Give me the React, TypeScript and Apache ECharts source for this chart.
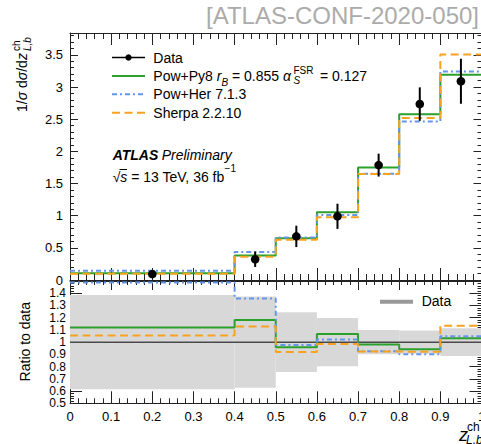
import React, { useEffect, useRef } from "react";
import * as echarts from "echarts";

// Bin edges of the z_{L,b}^{ch} distribution
const binEdges = [0, 0.4, 0.5, 0.6, 0.7, 0.8, 0.9, 1.0];

// Unfolded data and its total uncertainty
const dataValues = [0.092, 0.322, 0.678, 0.99, 1.786, 2.735, 3.09];
const dataErrors = [0.0355, 0.12, 0.166, 0.196, 0.178, 0.26, 0.35];

// MC predictions
const powPy8Values = [0.103, 0.38, 0.65, 1.055, 1.75, 2.575, 3.19];
const powHerValues = [0.145, 0.437, 0.662, 1.011, 1.652, 2.465, 3.24];
const sherpaValues = [0.097, 0.363, 0.624, 0.975, 1.648, 2.52, 3.507];

const seriesNames = {
  data: "Data",
  py8: "Pow+Py8",
  her: "Pow+Her 7.1.3",
  sherpa: "Sherpa 2.2.10",
};

const FONT = '"Liberation Sans", Arial, Helvetica, sans-serif';
const GREEN = "#2ca02c";
const BLUE = "#6495ed";
const ORANGE = "#f9a21f";
const BAND = "#d8d8d8";
const DASH_DOT = [5, 3, 2, 3];
const DASH = [8, 4.5];

const TOP_MAX = 3.84;
const RATIO_MIN = 0.5;
const RATIO_MAX = 1.5;

function stepPoints(values: number[]) {
  const pts: number[][] = [];
  values.forEach((v, i) => {
    pts.push([binEdges[i], v], [binEdges[i + 1], v]);
  });
  return pts;
}

// Ratio to data, kept inside the panel like an overflowing histogram
function ratioTo(values: number[]) {
  return values.map((v, i) =>
    Math.min(Math.max(v / dataValues[i], RATIO_MIN + 0.012), RATIO_MAX - 0.012)
  );
}

const axisLineStyle = { color: "#222", width: 1 };
const tickStyle = { color: "#222", width: 1 };

function tickAxisX(gridIndex: number, position: string, len: number, minorLen: number, labels: boolean) {
  return {
    type: "value",
    gridIndex,
    position,
    min: 0,
    max: 1,
    interval: 0.1,
    axisLine: { show: true, onZero: false, lineStyle: axisLineStyle },
    axisTick: { show: true, inside: true, length: len, lineStyle: tickStyle },
    minorTick: { show: true, splitNumber: 5, length: minorLen, lineStyle: tickStyle },
    splitLine: { show: false },
    minorSplitLine: { show: false },
    axisLabel: labels
      ? {
          show: true,
          margin: 7,
          fontSize: 13,
          color: "#000",
          fontFamily: FONT,
          showMinLabel: true,
          showMaxLabel: true,
          hideOverlap: false,
        }
      : { show: false },
  };
}

function isMultiple(v: number, step: number) {
  const q = v / step;
  return Math.abs(q - Math.round(q)) < 1e-6;
}

export default function App() {
  const ref = useRef<HTMLDivElement>(null);

  useEffect(() => {
    if (!ref.current) return;
    const chart = echarts.init(ref.current, undefined, { renderer: "svg" });

    const centers = dataValues.map((_, i) => (binEdges[i] + binEdges[i + 1]) / 2);
    const dataPoints = dataValues.map((v, i) => [centers[i], v, dataErrors[i]]);
    const bandRects = dataValues.map((v, i) => [
      binEdges[i],
      binEdges[i + 1],
      1 - dataErrors[i] / v,
      1 + dataErrors[i] / v,
    ]);

    const topY = (position: string, interval: number, len: number, labels: boolean, line: boolean) => ({
      type: "value",
      gridIndex: 0,
      position,
      min: 0,
      max: TOP_MAX,
      interval,
      axisLine: { show: line, onZero: false, lineStyle: axisLineStyle },
      axisTick: { show: true, inside: true, length: len, lineStyle: tickStyle },
      splitLine: { show: false },
      axisLabel: labels
        ? {
            show: true,
            margin: 7,
            fontSize: 13,
            color: "#000",
            fontFamily: FONT,
            showMinLabel: true,
            hideOverlap: false,
            formatter: (v: number) => (isMultiple(v, 0.5) && v <= 3.5 + 1e-9 ? String(v) : ""),
          }
        : { show: false },
    });

    const ratioY = (position: string, labels: boolean) => ({
      type: "value",
      gridIndex: 1,
      position,
      min: RATIO_MIN,
      max: RATIO_MAX,
      interval: 0.1,
      axisLine: { show: true, onZero: false, lineStyle: axisLineStyle },
      axisTick: { show: true, inside: true, length: 12, lineStyle: tickStyle },
      minorTick: { show: true, splitNumber: 5, length: 4, lineStyle: tickStyle },
      splitLine: { show: false },
      minorSplitLine: { show: false },
      axisLabel: labels
        ? {
            show: true,
            margin: 4,
            fontSize: 12,
            lineHeight: 11,
            color: "#000",
            fontFamily: FONT,
            showMinLabel: true,
            showMaxLabel: false,
            hideOverlap: false,
            formatter: (v: number) => (v < RATIO_MAX - 1e-9 ? String(Math.round(v * 10) / 10) : ""),
          }
        : { show: false },
    });

    const stepSeries = (
      name: string,
      values: number[][],
      color: string,
      type: any,
      xi: number,
      yi: number,
      z: number,
      width = 2
    ) => ({
      type: "line",
      name,
      xAxisIndex: xi,
      yAxisIndex: yi,
      data: values,
      showSymbol: false,
      symbol: "none",
      clip: true,
      z,
      lineStyle: { color, width, type },
    });

    const legendRow = (y: number, color: string, type: any, label: string) => [
      {
        type: "line",
        shape: { x1: 112, y1: y, x2: 145, y2: y },
        style: { stroke: color, lineWidth: 2, lineDash: type === "solid" ? null : type },
      },
      {
        type: "text",
        x: 153.3,
        y,
        style: { text: label, fontSize: 14, fontFamily: FONT, fill: "#000", verticalAlign: "middle" },
      },
    ];

    const option: any = {
      animation: false,
      backgroundColor: "#fff",
      textStyle: { fontFamily: FONT },
      grid: [
        { left: 70, top: 33, width: 411.5, height: 247, containLabel: false, outerBoundsMode: "none" },
        { left: 70, top: 281, width: 411.5, height: 122.3, containLabel: false, outerBoundsMode: "none" },
      ],
      xAxis: [
        tickAxisX(0, "bottom", 12, 6, false),
        tickAxisX(0, "top", 12, 6, false),
        tickAxisX(1, "bottom", 12, 5, true),
        tickAxisX(1, "top", 9, 4, false),
      ],
      yAxis: [
        topY("left", 0.5, 8, true, true),
        topY("left", 0.1, 4, false, false),
        topY("right", 0.5, 8, false, true),
        topY("right", 0.1, 4, false, false),
        ratioY("left", true),
        ratioY("right", false),
      ],
      series: [
        // Upper panel: predictions
        stepSeries(seriesNames.py8, stepPoints(powPy8Values), GREEN, "solid", 0, 0, 3),
        stepSeries(seriesNames.her, stepPoints(powHerValues), BLUE, DASH_DOT, 0, 0, 4),
        stepSeries(seriesNames.sherpa, stepPoints(sherpaValues), ORANGE, DASH, 0, 0, 5),
        // Upper panel: data with error bars
        {
          type: "custom",
          name: seriesNames.data,
          xAxisIndex: 0,
          yAxisIndex: 0,
          data: dataPoints,
          encode: { x: 0, y: 1 },
          z: 10,
          renderItem: (_params: any, api: any) => {
            const x = api.value(0);
            const y = api.value(1);
            const e = api.value(2);
            const top = api.coord([x, y + e]);
            const bot = api.coord([x, y - e]);
            const c = api.coord([x, y]);
            return {
              type: "group",
              children: [
                {
                  type: "line",
                  shape: { x1: top[0], y1: top[1], x2: bot[0], y2: bot[1] },
                  style: { stroke: "#000", lineWidth: 2 },
                },
                { type: "circle", shape: { cx: c[0], cy: c[1], r: 4.3 }, style: { fill: "#000" } },
              ],
            };
          },
        },
        // Lower panel: data uncertainty band
        {
          type: "custom",
          name: "Data uncertainty",
          xAxisIndex: 2,
          yAxisIndex: 4,
          data: bandRects,
          encode: { x: [0, 1], y: [2, 3] },
          z: 1,
          renderItem: (_params: any, api: any) => {
            const a = api.coord([api.value(0), api.value(3)]);
            const b = api.coord([api.value(1), api.value(2)]);
            return {
              type: "rect",
              shape: { x: a[0], y: a[1], width: b[0] - a[0], height: b[1] - a[1] },
              style: { fill: BAND },
            };
          },
        },
        stepSeries(seriesNames.data, stepPoints(dataValues.map((v) => v / v)), "#4a4a4a", "solid", 2, 4, 2, 1.5),
        stepSeries(seriesNames.py8, stepPoints(ratioTo(powPy8Values)), GREEN, "solid", 2, 4, 3),
        stepSeries(seriesNames.her, stepPoints(ratioTo(powHerValues)), BLUE, DASH_DOT, 2, 4, 4),
        stepSeries(seriesNames.sherpa, stepPoints(ratioTo(sherpaValues)), ORANGE, DASH, 2, 4, 5),
      ],
      graphic: [
        {
          type: "text",
          x: 479,
          y: 15.5,
          style: {
            text: "[ATLAS-CONF-2020-050]",
            fontSize: 24,
            fontFamily: FONT,
            fill: "#ababab",
            align: "right",
            verticalAlign: "middle",
          },
        },
        // Legend of the upper panel
        {
          type: "line",
          shape: { x1: 112, y1: 57.5, x2: 145, y2: 57.5 },
          style: { stroke: "#000", lineWidth: 1.5 },
        },
        { type: "circle", shape: { cx: 128.5, cy: 57.5, r: 3.2 }, style: { fill: "#000" } },
        {
          type: "text",
          x: 153.3,
          y: 57.5,
          style: { text: seriesNames.data, fontSize: 14, fontFamily: FONT, fill: "#000", verticalAlign: "middle" },
        },
        {
          type: "line",
          shape: { x1: 112, y1: 76, x2: 145, y2: 76 },
          style: { stroke: GREEN, lineWidth: 2 },
        },
        {
          type: "text",
          x: 153.3,
          y: 76,
          style: {
            text: "{t|Pow+Py8 }{i|r}{sub|B}{t| = 0.855 }{i|α}",
            fontFamily: FONT,
            fill: "#000",
            verticalAlign: "middle",
            rich: {
              t: { fontSize: 14, lineHeight: 22, fontFamily: FONT },
              i: { fontSize: 14, lineHeight: 22, fontStyle: "italic", fontFamily: FONT },
              sub: { fontSize: 10, lineHeight: 10, fontStyle: "italic", verticalAlign: "bottom", fontFamily: FONT },
            },
          },
        },
        {
          type: "text",
          x: 293.5,
          y: 70.5,
          style: { text: "FSR", fontSize: 10, fontFamily: FONT, fill: "#000", verticalAlign: "middle" },
        },
        {
          type: "text",
          x: 293.5,
          y: 80.5,
          style: { text: "S", fontSize: 10, fontStyle: "italic", fontFamily: FONT, fill: "#000", verticalAlign: "middle" },
        },
        {
          type: "text",
          x: 316,
          y: 76,
          style: { text: " = 0.127", fontSize: 14, fontFamily: FONT, fill: "#000", verticalAlign: "middle" },
        },
        ...legendRow(94.3, BLUE, DASH_DOT, seriesNames.her),
        ...legendRow(112.8, ORANGE, DASH, seriesNames.sherpa),
        // Experiment label
        {
          type: "text",
          x: 112.7,
          y: 155,
          style: {
            text: "{b|ATLAS} {i|Preliminary}",
            fontFamily: FONT,
            fill: "#000",
            verticalAlign: "middle",
            rich: {
              b: { fontSize: 14, fontWeight: "bold", fontStyle: "italic", fontFamily: FONT },
              i: { fontSize: 14, fontStyle: "italic", fontFamily: FONT },
            },
          },
        },
        {
          type: "text",
          x: 112.7,
          y: 176.7,
          style: {
            text: "{t|√}{i|s}{t| = 13 TeV, 36 fb}{sup|−1}",
            fontFamily: FONT,
            fill: "#000",
            verticalAlign: "middle",
            rich: {
              t: { fontSize: 14, lineHeight: 26, fontFamily: FONT },
              i: { fontSize: 14, lineHeight: 26, fontStyle: "italic", fontFamily: FONT },
              sup: { fontSize: 10, lineHeight: 10, verticalAlign: "top", fontFamily: FONT },
            },
          },
        },
        {
          type: "line",
          shape: { x1: 119.5, y1: 169.5, x2: 127, y2: 169.5 },
          style: { stroke: "#000", lineWidth: 1 },
        },
        // Legend of the ratio panel
        {
          type: "line",
          shape: { x1: 380, y1: 301.7, x2: 413, y2: 301.7 },
          style: { stroke: "#999", lineWidth: 4 },
        },
        {
          type: "text",
          x: 421.7,
          y: 300.5,
          style: { text: "Data", fontSize: 14, fontFamily: FONT, fill: "#000", verticalAlign: "middle" },
        },
        // Axis titles
        {
          type: "group",
          x: 22,
          y: 112,
          rotation: Math.PI / 2,
          children: [
            {
              type: "text",
              x: 0,
              y: 0,
              style: {
                text: "{t|1/}{i|σ}{t| d}{i|σ}{t|/d}{i|z}",
                fontFamily: FONT,
                fill: "#000",
                verticalAlign: "middle",
                rich: {
                  t: { fontSize: 14, fontFamily: FONT },
                  i: { fontSize: 14, fontStyle: "italic", fontFamily: FONT },
                },
              },
            },
            {
              type: "text",
              x: 61,
              y: -6,
              style: { text: "ch", fontSize: 10, fontFamily: FONT, fill: "#000", verticalAlign: "middle" },
            },
            {
              type: "text",
              x: 61,
              y: 5,
              style: { text: "L,b", fontSize: 10, fontStyle: "italic", fontFamily: FONT, fill: "#000", verticalAlign: "middle" },
            },
          ],
        },
        {
          type: "text",
          x: 25,
          y: 341.7,
          rotation: Math.PI / 2,
          style: {
            text: "Ratio to data",
            fontSize: 14,
            fontFamily: FONT,
            fill: "#000",
            align: "center",
            verticalAlign: "middle",
          },
        },
        {
          type: "text",
          x: 459,
          y: 434.5,
          style: { text: "z", fontSize: 18, fontStyle: "italic", fontFamily: FONT, fill: "#000", verticalAlign: "middle" },
        },
        {
          type: "text",
          x: 467,
          y: 427,
          style: { text: "ch", fontSize: 12, fontFamily: FONT, fill: "#000", verticalAlign: "middle" },
        },
        {
          type: "text",
          x: 466,
          y: 440,
          style: { text: "L,b", fontSize: 12, fontStyle: "italic", fontFamily: FONT, fill: "#000", verticalAlign: "middle" },
        },
      ],
    };

    chart.setOption(option);
    return () => chart.dispose();
  }, []);

  return (
    <div
      ref={ref}
      style={{ position: "fixed", left: 0, top: 0, width: 481, height: 444, background: "#fff" }}
    />
  );
}
